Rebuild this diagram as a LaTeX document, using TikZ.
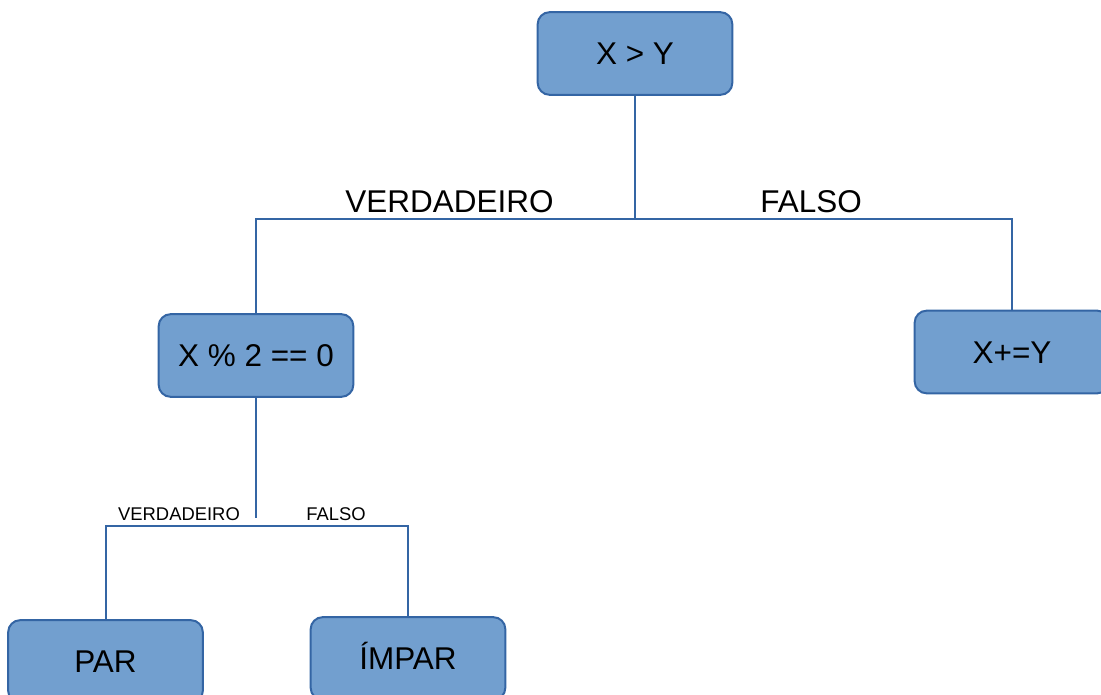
\documentclass[tikz,border=0pt]{standalone}
\usepackage{fontspec}
\setmainfont{Liberation Sans}
\definecolor{boxfill}{HTML}{729FCF}
\definecolor{boxline}{HTML}{3465A4}
\begin{document}
\begin{tikzpicture}[x=0.75pt,y=-0.75pt,
  decision/.style={draw=boxline,fill=boxfill,line width=1.5pt,rounded corners=9pt,
    minimum width=146pt,minimum height=62pt,inner sep=0pt,
    font=\fontsize{23.6}{28}\selectfont,text height=17pt,text depth=0pt},
  branch/.style={draw=boxline,line width=1.5pt},
  biglabel/.style={font=\fontsize{23.6}{28}\selectfont,inner sep=0pt},
  smalllabel/.style={font=\fontsize{13.8}{16}\selectfont,inner sep=0pt}]
\clip (0,0) rectangle (1101,695);

% decision boxes
\node[decision] (top)   at (635,53.5)   {X > Y};
\node[decision] (mid)   at (256,355.5)  {X \% 2 == 0};
\node[decision] (right) at (1012,352)   {X+=Y};
\node[decision] (par)   at (105.5,661.5) {PAR};
\node[decision] (impar) at (408,658.5)  {ÍMPAR};

% first split
\coordinate (j1) at (635,219);
\draw[branch] (top.south) -- (j1);
\draw[branch] (mid.north) |- (right.north |- j1) -- (right.north);
\node[biglabel] (v1) at (449.5,202) {VERDADEIRO};
\node[biglabel] (f1) at (811,202) {FALSO};

% second split
\coordinate (b2) at (0,526);
\coordinate (j2) at (0,518);
\draw[branch] (mid.south) -- (mid.south |- j2);
\draw[branch] (par.north) |- (impar.north |- b2) -- (impar.north);
\node[smalllabel] (v2) at (179,514.5) {VERDADEIRO};
\node[smalllabel] (f2) at (336,514.5) {FALSO};
\end{tikzpicture}
\end{document}
